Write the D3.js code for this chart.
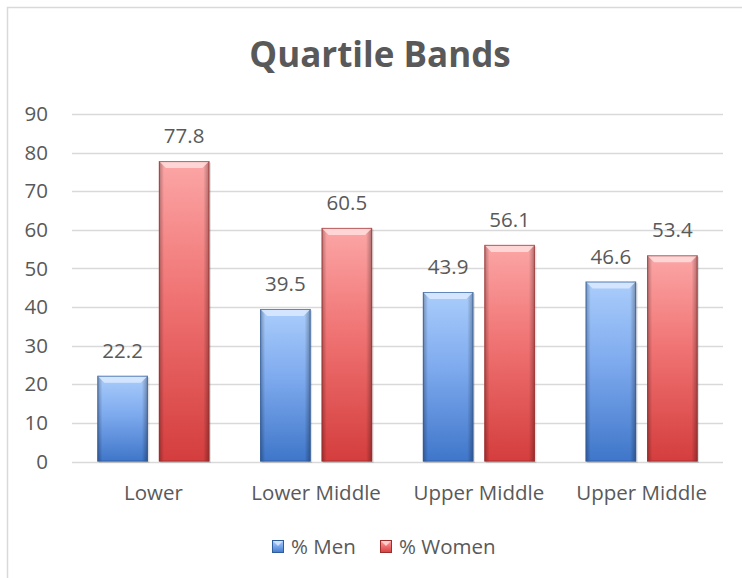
<!DOCTYPE html>
<html>
<head>
<meta charset="utf-8">
<script src="https://cdn.jsdelivr.net/npm/d3@7"></script>
<style>
  html, body { margin: 0; padding: 0; background: #fff; }
  svg { display: block; }
  text { font-family: "Open Sans", sans-serif; fill: #595959; }
</style>
</head>
<body>
<svg id="chart" width="742" height="578"></svg>
<script>
// ---- data ----
const categories = ["Lower", "Lower Middle", "Upper Middle", "Upper Middle"];
const seriesNames = ["% Men", "% Women"];
const menValues = [22.2, 39.5, 43.9, 46.6];
const womenValues = [77.8, 60.5, 56.1, 53.4];
const yTicks = [0, 10, 20, 30, 40, 50, 60, 70, 80, 90];
const chartTitle = "Quartile Bands";

const svg = d3.select("#chart");

// chart border (left/top visible, right/bottom cut off)
svg.append("rect")
  .attr("x", 7.5).attr("y", 7.5)
  .attr("width", 800).attr("height", 650)
  .attr("fill", "#fff").attr("stroke", "#d9d9d9").attr("stroke-width", 1.5);

// scales
const plotLeft = 72, plotRight = 723, plotTop = 114, plotBottom = 461.5;
const x0 = d3.scaleBand().domain(d3.range(categories.length)).range([plotLeft, plotRight]);
const groupW = 112;
const x1 = d3.scaleBand().domain(seriesNames)
  .range([(x0.step() - groupW) / 2, (x0.step() + groupW) / 2])
  .paddingInner(0.179);
const y = d3.scaleLinear().domain([0, 90]).range([plotBottom, plotTop]);

// gradients
const defs = svg.append("defs");
const palette = {
  "% Men":   { top: "#aacdfb", mid: "#7eaaee", bottom: "#3f76c9", stroke: "#2f5d9c", bevel: "#dceaff" },
  "% Women": { top: "#fca6a6", mid: "#f07373", bottom: "#d43d3d", stroke: "#9c2e2e", bevel: "#ffdede" }
};
seriesNames.forEach((s, i) => {
  const p = palette[s];
  const g = defs.append("linearGradient").attr("id", "vg" + i)
    .attr("x1", 0).attr("y1", 0).attr("x2", 0).attr("y2", 1);
  g.append("stop").attr("offset", "0%").attr("stop-color", p.top);
  g.append("stop").attr("offset", "45%").attr("stop-color", p.mid);
  g.append("stop").attr("offset", "100%").attr("stop-color", p.bottom);
});
const hg = defs.append("linearGradient").attr("id", "hg")
  .attr("x1", 0).attr("y1", 0).attr("x2", 1).attr("y2", 0);
hg.append("stop").attr("offset", "0%").attr("stop-color", "#000").attr("stop-opacity", 0.3);
hg.append("stop").attr("offset", "10%").attr("stop-color", "#000").attr("stop-opacity", 0.0);
hg.append("stop").attr("offset", "88%").attr("stop-color", "#000").attr("stop-opacity", 0.0);
hg.append("stop").attr("offset", "100%").attr("stop-color", "#000").attr("stop-opacity", 0.32);

// title
svg.append("text")
  .attr("x", 380).attr("y", 67)
  .attr("text-anchor", "middle")
  .style("font-size", "35px").style("font-weight", "bold")
  .text(chartTitle);

// gridlines
svg.append("g").selectAll("line").data(yTicks).join("line")
  .attr("x1", plotLeft).attr("x2", plotRight)
  .attr("y1", d => Math.round(y(d)) + 0.5).attr("y2", d => Math.round(y(d)) + 0.5)
  .attr("stroke", "#d9d9d9").attr("stroke-width", 1.3);

// y axis labels
const yAxis = d3.axisLeft(y).tickValues(yTicks).tickSize(0).tickPadding(0);
const yg = svg.append("g").attr("transform", `translate(48,0)`).call(yAxis);
yg.select(".domain").remove();
yg.selectAll("text").style("font-size", "20.5px").style("font-family", "'Open Sans', sans-serif").attr("fill", "#595959");

// x axis labels
const xAxis = d3.axisBottom(x0).tickFormat(i => categories[i]).tickSize(0).tickPadding(0);
const xg = svg.append("g").attr("transform", `translate(0,${plotBottom + 24})`).call(xAxis);
xg.select(".domain").remove();
xg.selectAll("text").style("font-size", "20.5px").style("font-family", "'Open Sans', sans-serif").attr("fill", "#595959");

// bars
const rows = categories.map((c, i) => ({ i, values: [menValues[i], womenValues[i]] }));
const groups = svg.append("g").selectAll("g").data(rows).join("g")
  .attr("transform", d => `translate(${x0(d.i)},0)`);

const bars = groups.selectAll("g.bar").data(d => d.values.map((v, k) => ({ s: seriesNames[k], k, v })))
  .join("g").attr("class", "bar");

bars.each(function(d) {
  const g = d3.select(this);
  const bx = x1(d.s), bw = x1.bandwidth();
  const by = y(d.v), bh = y(0) - y(d.v);
  const p = palette[d.s];
  // shadow
  g.append("rect").attr("x", bx + 1.5).attr("y", by + 1.5).attr("width", bw).attr("height", bh)
    .attr("fill", "#000").attr("opacity", 0.12);
  g.append("rect").attr("x", bx).attr("y", by).attr("width", bw).attr("height", bh)
    .attr("fill", `url(#vg${d.k})`);
  g.append("rect").attr("x", bx).attr("y", by).attr("width", bw).attr("height", bh)
    .attr("fill", "url(#hg)");
  // top bevel
  const bev = 7;
  g.append("path")
    .attr("d", `M${bx},${by} L${bx + bw},${by} L${bx + bw - bev},${by + bev} L${bx + bev},${by + bev} Z`)
    .attr("fill", p.bevel).attr("opacity", 0.85);
  g.append("rect").attr("x", bx + 0.5).attr("y", by + 0.5).attr("width", bw - 1).attr("height", bh - 1)
    .attr("fill", "none").attr("stroke", p.stroke).attr("stroke-width", 1).attr("opacity", 0.7);
  // value label
  g.append("text")
    .attr("x", bx + bw / 2).attr("y", by - 18)
    .attr("text-anchor", "middle")
    .style("font-size", "20.5px")
    .text(d3.format(".1f")(d.v));
});

// legend
const legendX = [272, 380];
const leg = svg.append("g").selectAll("g").data(seriesNames).join("g")
  .attr("transform", (d, i) => `translate(${legendX[i]},540)`);
leg.each(function(s, i) {
  const g = d3.select(this);
  const p = palette[s];
  g.append("rect").attr("width", 12).attr("height", 13).attr("fill", `url(#vg${i})`);
  g.append("path").attr("d", "M0,0 L12,0 L6,6 Z").attr("fill", p.bevel).attr("opacity", 0.8);
  g.append("rect").attr("x", 0.5).attr("y", 0.5).attr("width", 11).attr("height", 12)
    .attr("fill", "none").attr("stroke", p.stroke).attr("stroke-width", 1);
  g.append("text").attr("x", 19).attr("y", 7).attr("dy", "0.35em")
    .style("font-size", "20.5px").text(s);
});
</script>
</body>
</html>
